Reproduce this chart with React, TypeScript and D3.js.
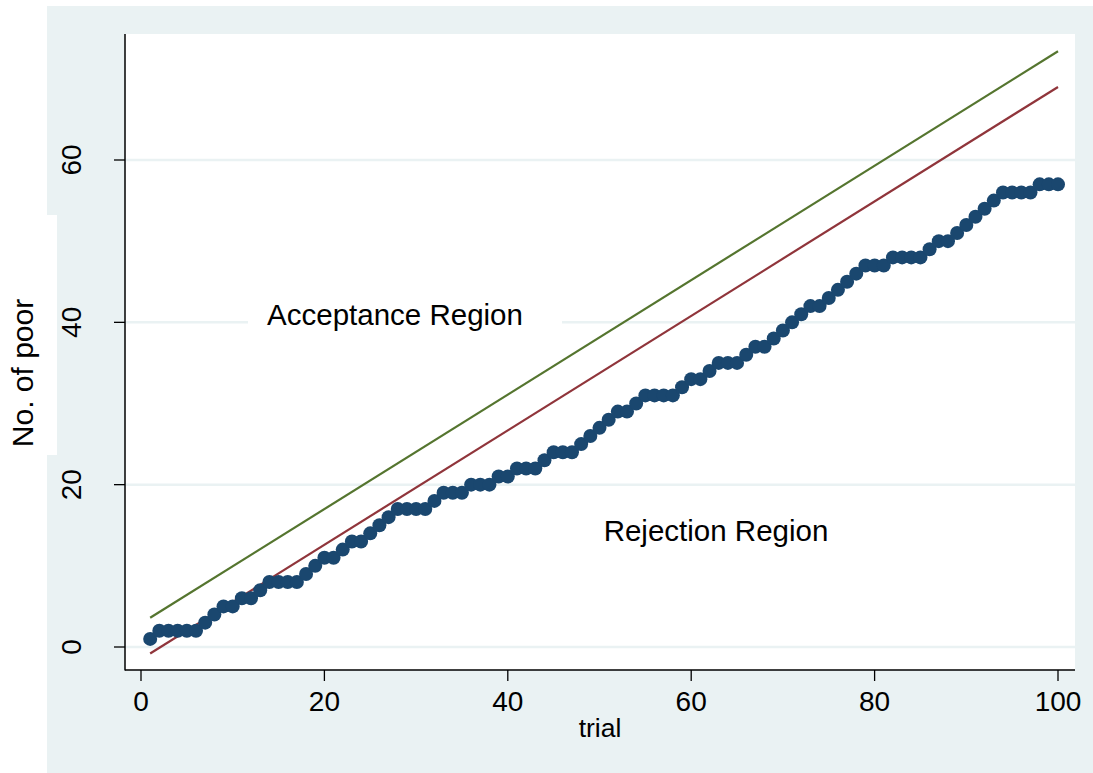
import React from "react";
import * as d3 from "d3";

// cumulative number of poor, trial 1..100
const poorCounts = [
  1, 2, 2, 2, 2, 2, 3, 4, 5, 5,
  6, 6, 7, 8, 8, 8, 8, 9, 10, 11,
  11, 12, 13, 13, 14, 15, 16, 17, 17, 17,
  17, 18, 19, 19, 19, 20, 20, 20, 21, 21,
  22, 22, 22, 23, 24, 24, 24, 25, 26, 27,
  28, 29, 29, 30, 31, 31, 31, 31, 32, 33,
  33, 34, 35, 35, 35, 36, 37, 37, 38, 39,
  40, 41, 42, 42, 43, 44, 45, 46, 47, 47,
  47, 48, 48, 48, 48, 49, 50, 50, 51, 52,
  53, 54, 55, 56, 56, 56, 56, 57, 57, 57,
];
const trials = poorCounts.map((_, i) => i + 1);

// boundary lines (end points)
const boundaryTrials = [1, 100];
const upperBoundary = [3.6, 73.4];
const lowerBoundary = [-0.8, 69.0];

const xTicks = [0, 20, 40, 60, 80, 100];
const yTicks = [0, 20, 40, 60];

const W = 1093;
const H = 773;
const bg = "#eaf2f3";
const font = "'Liberation Sans', Arial, sans-serif";

export default function App() {
  const plot = { left: 125, right: 1075, top: 34, bottom: 670 };
  const x = d3.scaleLinear().domain([0, 100]).range([141, 1058]);
  const y = d3.scaleLinear().domain([0, 60]).range([647, 160]);

  const line = d3
    .line<number>()
    .x((d, i) => x(boundaryTrials[i]))
    .y((d) => y(d));

  return (
    <svg
      width={W}
      height={H}
      style={{ position: "absolute", left: 0, top: 0, display: "block" }}
      fontFamily={font}
    >
      <rect x={0} y={0} width={W} height={H} fill="#fff" />
      <rect x={47} y={6} width={W - 47} height={H - 6} fill={bg} />
      {/* white box behind y title */}
      <rect x={0} y={215} width={57} height={240} fill="#fff" />

      <rect
        x={plot.left}
        y={plot.top}
        width={plot.right - plot.left}
        height={plot.bottom - plot.top}
        fill="#fff"
      />

      {yTicks.map((t) => (
        <line
          key={"g" + t}
          x1={plot.left}
          x2={plot.right}
          y1={y(t)}
          y2={y(t)}
          stroke={bg}
          strokeWidth={2.5}
        />
      ))}

      {/* region labels */}
      <rect x={248} y={302} width={314} height={40} fill="#fff" />
      <text x={395} y={325} fontSize={29.5} textAnchor="middle" fill="#000">
        Acceptance Region
      </text>
      <text x={716} y={541} fontSize={29.5} textAnchor="middle" fill="#000">
        Rejection Region
      </text>

      <path d={line(upperBoundary) ?? ""} fill="none" stroke="#55752f" strokeWidth={2.2} />
      <path d={line(lowerBoundary) ?? ""} fill="none" stroke="#90353b" strokeWidth={2.2} />

      {poorCounts.map((v, i) => (
        <circle key={i} cx={x(trials[i])} cy={y(v)} r={7} fill="#1a476f" />
      ))}

      {/* axes */}
      <line x1={plot.left} x2={plot.left} y1={plot.top} y2={plot.bottom + 0.5} stroke="#000" strokeWidth={1.5} />
      <line x1={plot.left} x2={plot.right} y1={plot.bottom} y2={plot.bottom} stroke="#000" strokeWidth={1.5} />

      {yTicks.map((t) => (
        <g key={"y" + t}>
          <line x1={plot.left - 11} x2={plot.left} y1={y(t)} y2={y(t)} stroke="#000" strokeWidth={1.3} />
          <text
            transform={`translate(81,${y(t)}) rotate(-90)`}
            textAnchor="middle"
            fontSize={28}
            fill="#000"
          >
            {t}
          </text>
        </g>
      ))}

      {xTicks.map((t) => (
        <g key={"x" + t}>
          <line x1={x(t)} x2={x(t)} y1={plot.bottom} y2={plot.bottom + 11} stroke="#000" strokeWidth={1.3} />
          <text x={x(t)} y={711} textAnchor="middle" fontSize={28} fill="#000">
            {t}
          </text>
        </g>
      ))}

      <text x={600} y={737} textAnchor="middle" fontSize={26.5} fill="#000">
        trial
      </text>
      <text
        transform={`translate(33,373) rotate(-90)`}
        textAnchor="middle"
        fontSize={30}
        fill="#000"
      >
        No. of poor
      </text>
    </svg>
  );
}
